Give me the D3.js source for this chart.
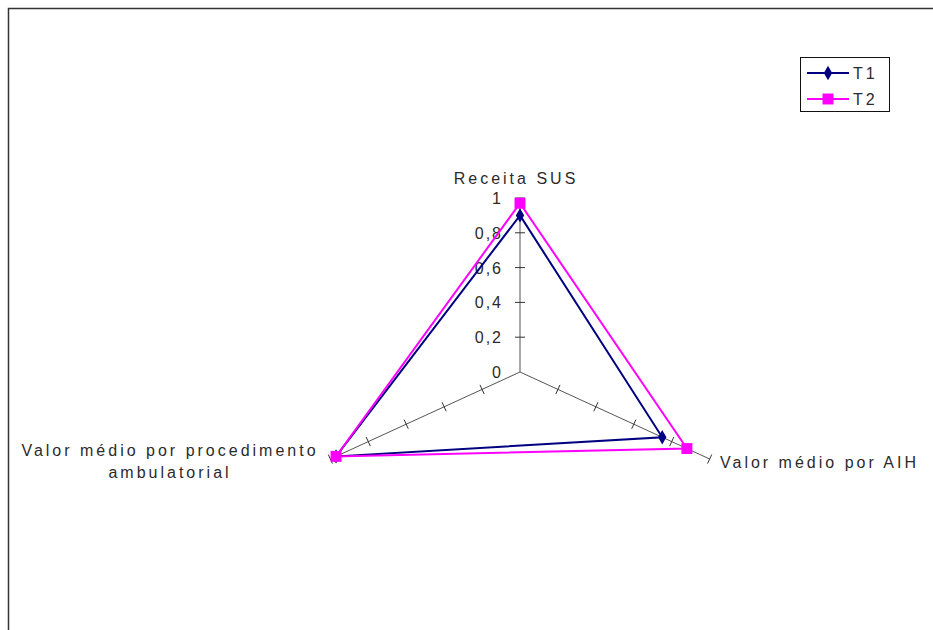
<!DOCTYPE html>
<html>
<head>
<meta charset="utf-8">
<script src="https://cdn.jsdelivr.net/npm/d3@7"></script>
<style>
  body { margin: 0; background: #fff; }
  text { font-family: "Liberation Sans", Arial, sans-serif; fill: #2b2b2b; }
</style>
</head>
<body>
<div id="chart"></div>
<script>
// DATA
var axesNames = ["Receita SUS", "Valor médio por AIH", "Valor médio por procedimento ambulatorial"];
var seriesNames = ["T1", "T2"];
var t1Values = [0.90, 0.75, 0.97];
var t2Values = [0.97, 0.88, 0.97];
var tickValues = [0, 0.2, 0.4, 0.6, 0.8, 1];
var tickLabels = ["0", "0,2", "0,4", "0,6", "0,8", "1"];
var seriesColors = ["#000080", "#ff00ff"];

var width = 933, height = 630;
var cx = 520, cy = 372;

var svg = d3.select("#chart")
  .append("svg")
    .attr("width", width)
    .attr("height", height);

// chart frame (runs off the right and bottom edge)
svg.append("rect")
  .attr("x", 8.5).attr("y", 8.5)
  .attr("width", 960).attr("height", 660)
  .attr("fill", "none")
  .attr("stroke", "#333")
  .attr("stroke-width", 1.5);

// radial scales (the picture is stretched horizontally)
var rx = d3.scaleLinear().domain([0, 1]).range([0, 219]);
var ry = d3.scaleLinear().domain([0, 1]).range([0, 174]);

var angle = d3.scalePoint().domain(d3.range(axesNames.length)).range([0, 240]);

function pos(i, v) {
  var a = angle(i) * Math.PI / 180;
  return [cx + rx(v) * Math.sin(a), cy - ry(v) * Math.cos(a)];
}

var g = svg.append("g");

// axes
axesNames.forEach(function(name, i) {
  var end = pos(i, 1);
  g.append("line")
    .attr("x1", cx).attr("y1", cy)
    .attr("x2", end[0]).attr("y2", end[1])
    .attr("stroke", "#555")
    .attr("stroke-width", 1);

  var dx = end[0] - cx, dy = end[1] - cy;
  var len = Math.sqrt(dx * dx + dy * dy);
  var px = -dy / len * 5, py = dx / len * 5;

  tickValues.slice(1).forEach(function(v) {
    var p = pos(i, v);
    g.append("line")
      .attr("x1", p[0] - px).attr("y1", p[1] - py)
      .attr("x2", p[0] + px).attr("y2", p[1] + py)
      .attr("stroke", "#333")
      .attr("stroke-width", 1);
  });
});

// value axis labels
g.selectAll(".ticklabel")
  .data(tickValues)
  .enter()
  .append("text")
    .attr("class", "ticklabel")
    .attr("x", cx - 17)
    .attr("y", function(d) { return cy - ry(d) + 6; })
    .attr("text-anchor", "end")
    .attr("font-size", "16px")
    .attr("letter-spacing", "2px")
    .text(function(d, i) { return tickLabels[i]; });

// category labels
g.append("text")
  .attr("x", 516).attr("y", 184)
  .attr("text-anchor", "middle")
  .attr("font-size", "16px")
  .attr("letter-spacing", "3px")
  .text(axesNames[0]);

g.append("text")
  .attr("x", 720).attr("y", 468)
  .attr("text-anchor", "start")
  .attr("font-size", "16px")
  .attr("letter-spacing", "3px")
  .text(axesNames[1]);

var leftLabel = g.append("text")
  .attr("text-anchor", "middle")
  .attr("font-size", "16px")
  .attr("letter-spacing", "3px");
leftLabel.append("tspan").attr("x", 170).attr("y", 456).text("Valor médio por procedimento");
leftLabel.append("tspan").attr("x", 170).attr("y", 478).text("ambulatorial");

// series
var allSeries = [t1Values, t2Values];
var line = d3.line()
  .x(function(d) { return d[0]; })
  .y(function(d) { return d[1]; })
  .curve(d3.curveLinearClosed);

allSeries.forEach(function(vals, s) {
  var pts = vals.map(function(v, i) { return pos(i, v); });
  g.append("path")
    .datum(pts)
    .attr("d", line)
    .attr("fill", "none")
    .attr("stroke", seriesColors[s])
    .attr("stroke-width", 2);

  var sym = s === 0 ? d3.symbolDiamond : d3.symbolSquare;
  var size = s === 0 ? 60 : 120;
  g.selectAll(".pt" + s)
    .data(pts)
    .enter()
    .append("path")
      .attr("class", "pt" + s)
      .attr("transform", function(d) { return "translate(" + d[0] + "," + d[1] + ")"; })
      .attr("d", d3.symbol().type(sym).size(size))
      .attr("fill", seriesColors[s]);
});

// legend
var legend = svg.append("g");
legend.append("rect")
  .attr("x", 800.5).attr("y", 57.5)
  .attr("width", 89).attr("height", 54)
  .attr("fill", "#fff")
  .attr("stroke", "#111")
  .attr("stroke-width", 1);

seriesNames.forEach(function(name, s) {
  var yy = 73 + s * 26;
  legend.append("line")
    .attr("x1", 807).attr("x2", 849)
    .attr("y1", yy).attr("y2", yy)
    .attr("stroke", seriesColors[s])
    .attr("stroke-width", 2);
  legend.append("path")
    .attr("transform", "translate(828," + yy + ")")
    .attr("d", d3.symbol().type(s === 0 ? d3.symbolDiamond : d3.symbolSquare).size(s === 0 ? 60 : 120))
    .attr("fill", seriesColors[s]);
  legend.append("text")
    .attr("x", 853).attr("y", yy + 6)
    .attr("font-size", "16px")
    .attr("letter-spacing", "3px")
    .text(name);
});
</script>
</body>
</html>
